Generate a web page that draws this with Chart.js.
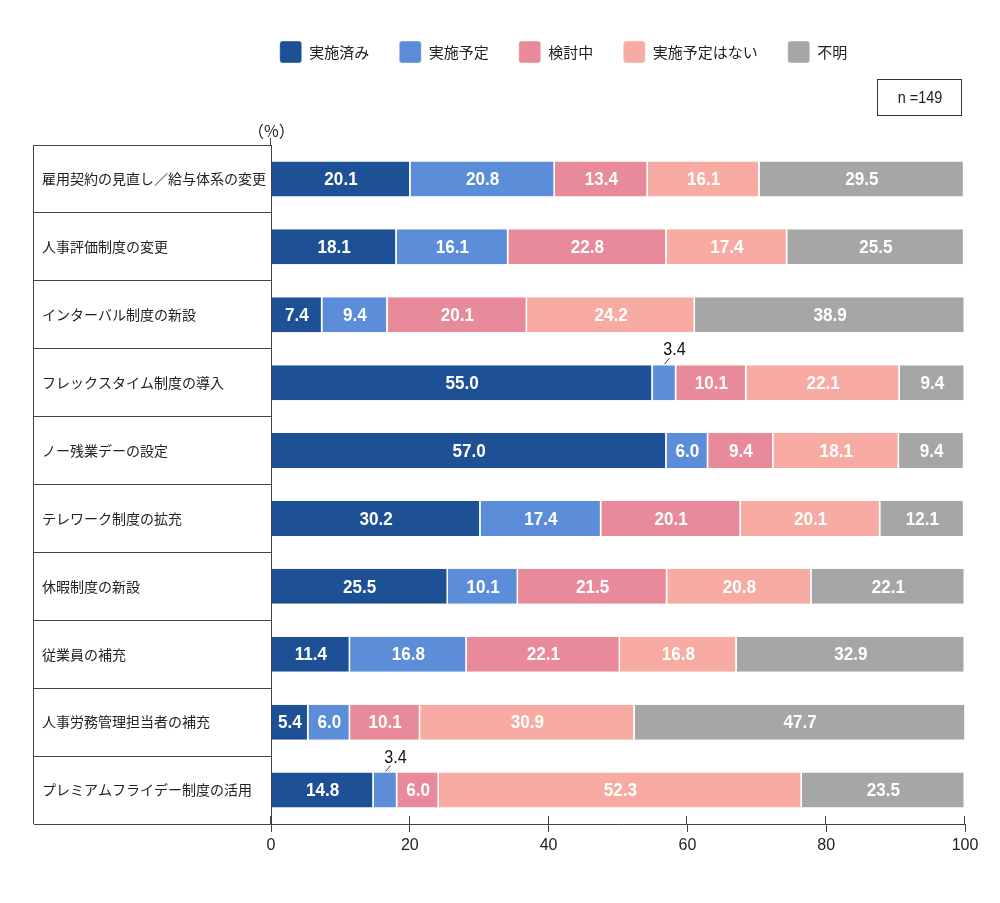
<!DOCTYPE html>
<html>
<head>
<meta charset="utf-8">
<script src="https://cdn.jsdelivr.net/npm/chart.js@4"></script>
<style>
  html, body { margin: 0; padding: 0; background: #fff; }
  #wrap { width: 1000px; height: 903px; }
</style>
</head>
<body>
<div id="wrap"><canvas id="myBarChart"></canvas></div>
<script>
// Chart data
const categories = [
  '雇用契約の見直し／給与体系の変更',
  '人事評価制度の変更',
  'インターバル制度の新設',
  'フレックスタイム制度の導入',
  'ノー残業デーの設定',
  'テレワーク制度の拡充',
  '休暇制度の新設',
  '従業員の補充',
  '人事労務管理担当者の補充',
  'プレミアムフライデー制度の活用'
];
const seriesNames = ['実施済み', '実施予定', '検討中', '実施予定はない', '不明'];
const done      = [20.1, 18.1,  7.4, 55.0, 57.0, 30.2, 25.5, 11.4,  5.4, 14.8];
const planned   = [20.8, 16.1,  9.4,  3.4,  6.0, 17.4, 10.1, 16.8,  6.0,  3.4];
const reviewing = [13.4, 22.8, 20.1, 10.1,  9.4, 20.1, 21.5, 22.1, 10.1,  6.0];
const noPlan    = [16.1, 17.4, 24.2, 22.1, 18.1, 20.1, 20.8, 16.8, 30.9, 52.3];
const unknown   = [29.5, 25.5, 38.9,  9.4,  9.4, 12.1, 22.1, 32.9, 47.7, 23.5];
const xTicks = [0, 20, 40, 60, 80, 100];

const colors = ['#1d5095', '#5b8dd8', '#e98a9a', '#f8aba2', '#a6a6a6'];
const seriesValues = [done, planned, reviewing, noPlan, unknown];

const ctx = document.getElementById('myBarChart').getContext('2d');
const jpFont = '"Noto Sans CJK JP", "Noto Sans", sans-serif';
const numFont = '"Liberation Sans", Roboto, sans-serif';

// slightly narrow text like the original
function narrowText(c, text, x, y, font, color, sx) {
  c.save();
  c.translate(x, y);
  c.scale(sx, 1);
  c.font = font;
  c.fillStyle = color;
  c.textAlign = 'center';
  c.textBaseline = 'middle';
  c.fillText(text, 0, 0);
  c.restore();
}

// legend band reaches down to the table, and sits a bit right of centre
const legendSpace = {
  id: 'legendSpace',
  afterInit(chart) {
    const lg = chart.legend;
    const fit = lg.fit;
    lg.fit = function () { fit.call(this); this.height = 134; };
  },
  afterLayout(chart) {
    chart.legend.left += 60;
    chart.legend.right += 60;
  }
};

// white numbers inside the segments, small ones get a leader line
const valueLabels = {
  id: 'valueLabels',
  afterDatasetsDraw(chart) {
    const c = chart.ctx;
    chart.data.datasets.forEach((ds, i) => {
      const meta = chart.getDatasetMeta(i);
      meta.data.forEach((bar, j) => {
        const v = ds.data[j];
        const cx = (bar.x + bar.base) / 2;
        const text = v.toFixed(1);
        if (v >= 4) {
          narrowText(c, text, cx, bar.y + 1, 'bold 19px ' + numFont, '#fff', 0.9);
        } else {
          const top = bar.y - bar.height / 2;
          c.save();
          c.strokeStyle = '#333';
          c.lineWidth = 1;
          c.beginPath();
          c.moveTo(cx, top - 1);
          c.lineTo(cx + 5, top - 7);
          c.stroke();
          c.restore();
          narrowText(c, text, cx + 10, top - 15, '18px ' + numFont, '#111', 0.9);
        }
      });
    });
  }
};

// table frame on the left, tick marks above the axis, unit and n box
const frame = {
  id: 'frame',
  afterDraw(chart) {
    const c = chart.ctx;
    const a = chart.chartArea;
    const xs = chart.scales.x;
    c.save();
    c.strokeStyle = '#444';
    c.lineWidth = 1;
    c.beginPath();
    c.moveTo(a.left - 237.5, a.top);
    c.lineTo(a.left - 237.5, a.bottom);
    c.moveTo(a.left - 0.5, a.top - 7);
    c.lineTo(a.left - 0.5, a.top);
    xTicks.forEach(t => {
      const px = Math.round(xs.getPixelForValue(t)) - 0.5;
      c.moveTo(px, a.bottom - 8);
      c.lineTo(px, a.bottom);
    });
    c.stroke();

    c.fillStyle = '#222';
    c.font = '16px ' + jpFont;
    c.textAlign = 'left';
    c.textBaseline = 'middle';
    c.fillText('（%）', 248, 131);

    c.strokeStyle = '#333';
    c.strokeRect(877.5, 79.5, 84, 36);
    c.restore();
    narrowText(c, 'n =149', 920, 98, '17px ' + numFont, '#222', 0.85);
  }
};

const data = {
  labels: categories,
  datasets: seriesNames.map((name, i) => ({
    label: name,
    data: seriesValues[i],
    backgroundColor: colors[i],
    borderColor: '#fff',
    borderWidth: { top: 0, right: 1.5, bottom: 0, left: 0 },
    borderSkipped: false,
    categoryPercentage: 1,
    barPercentage: 0.515
  }))
};

const myBarChart = new Chart(ctx, {
  type: 'bar',
  data: data,
  plugins: [legendSpace, valueLabels, frame],
  options: {
    indexAxis: 'y',
    responsive: true,
    maintainAspectRatio: false,
    animation: false,
    layout: { padding: { top: 11, left: 42, right: 35, bottom: 39 } },
    plugins: {
      tooltip: { enabled: false },
      legend: {
        position: 'top',
        labels: {
          boxWidth: 22,
          boxHeight: 22,
          useBorderRadius: true,
          borderRadius: 3,
          padding: 30,
          color: '#222',
          font: { size: 15, family: jpFont }
        }
      }
    },
    scales: {
      x: {
        stacked: true,
        min: 0,
        max: 100,
        afterBuildTicks(s) { s.ticks = xTicks.map(v => ({ value: v })); },
        afterFit(s) { s.height = 40; },
        grid: { drawOnChartArea: false, tickLength: 8, color: '#444' },
        border: { color: '#444' },
        ticks: { padding: 4, color: '#222', font: { size: 16, family: numFont } }
      },
      y: {
        stacked: true,
        afterFit(s) { s.width = 229; },
        grid: { offset: true, drawOnChartArea: false, tickLength: 237, color: '#444' },
        border: { color: '#444' },
        ticks: { crossAlign: 'far', padding: 0, color: '#222', font: { size: 14, family: jpFont } }
      }
    }
  }
});
</script>
</body>
</html>
